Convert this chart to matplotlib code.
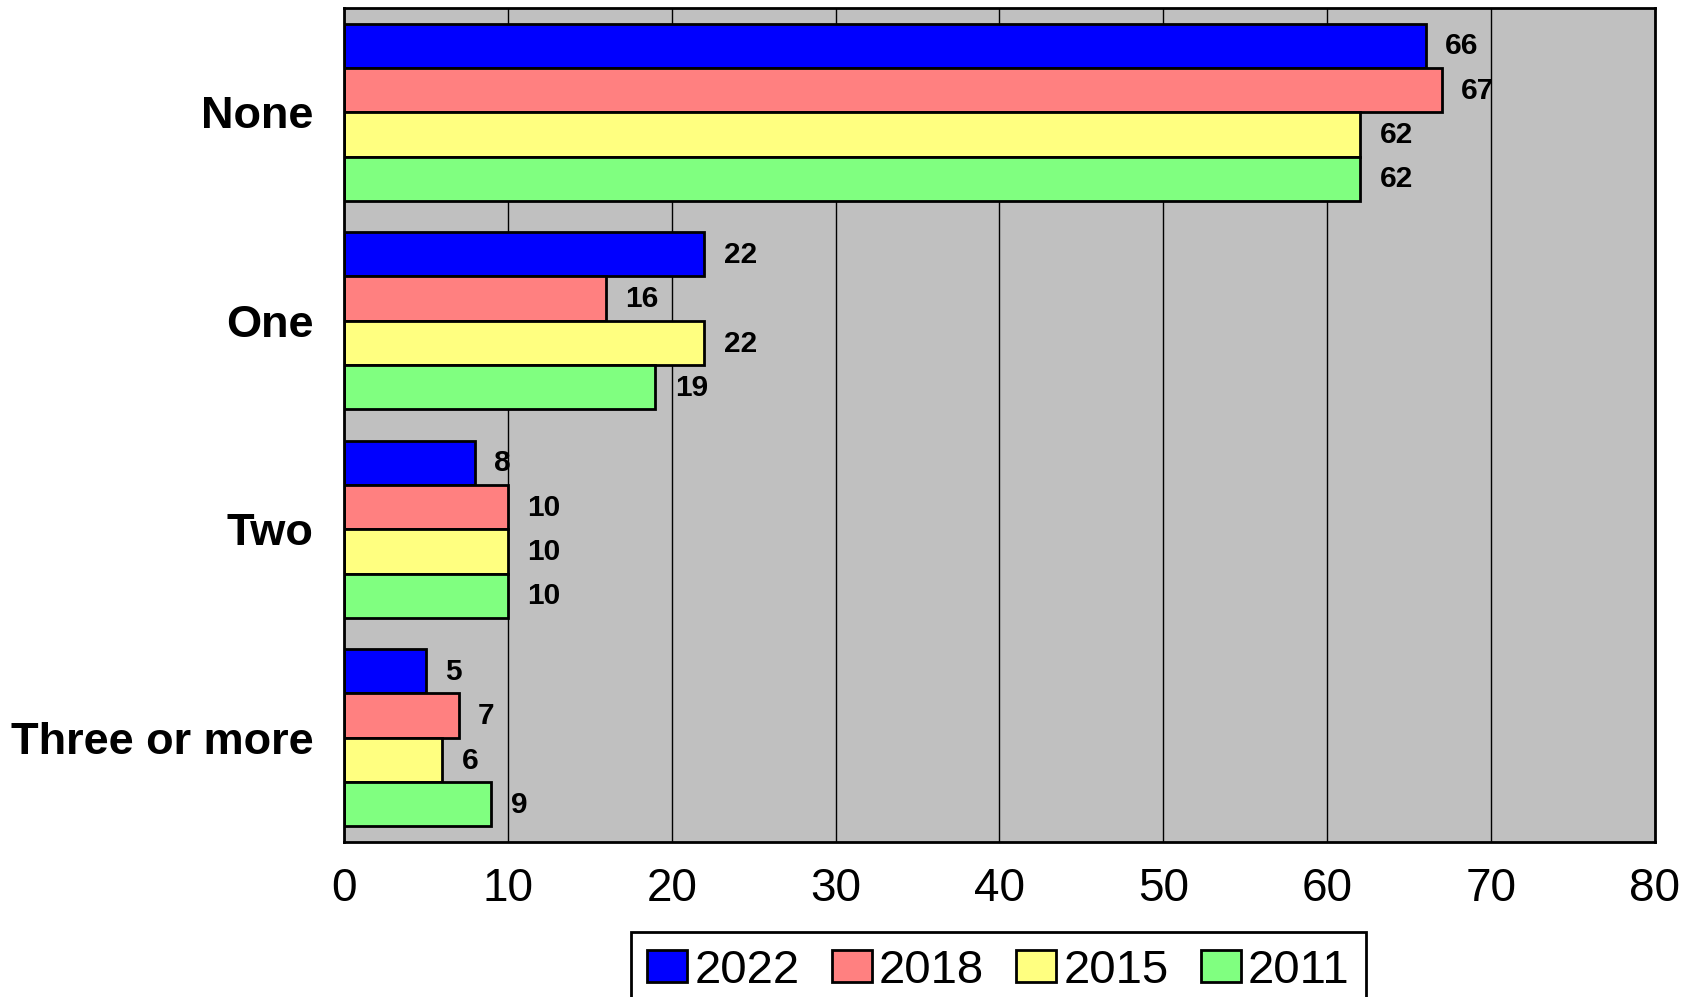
"""Horizontal grouped bar chart: number of items by survey year."""

import matplotlib

matplotlib.use("Agg")
import matplotlib.pyplot as plt
import numpy as np

plt.rcParams["font.family"] = ["Liberation Sans", "DejaVu Sans"]

categories = ["None", "One", "Two", "Three or more"]
years = ["2022", "2018", "2015", "2011"]
values_2022 = [66, 22, 8, 5]
values_2018 = [67, 16, 10, 7]
values_2015 = [62, 22, 10, 6]
values_2011 = [62, 19, 10, 9]
x_ticks = [0, 10, 20, 30, 40, 50, 60, 70, 80]

series = [values_2022, values_2018, values_2015, values_2011]
colors = ["#0000FF", "#FF8080", "#FFFF80", "#80FF80"]

fig = plt.figure(figsize=(16.96, 9.97), dpi=100)
ax = fig.add_axes([0.2028, 0.1555, 0.9758 - 0.2028, 0.992 - 0.1555])
ax.set_facecolor("#C0C0C0")

# categories run top to bottom
y_pos = np.arange(len(categories))
bar_h = 0.2125
offsets = (np.arange(len(series)) - 1.5) * bar_h

for vals, off, col, year in zip(series, offsets, colors, years):
    bars = ax.barh(
        y_pos + off,
        vals,
        height=bar_h,
        color=col,
        edgecolor="black",
        linewidth=2,
        label=year,
        zorder=3,
    )
    for bar, v in zip(bars, vals):
        ax.annotate(
            f"{v}",
            xy=(bar.get_width(), bar.get_y() + bar.get_height() / 2),
            xytext=(14, -0.5),
            textcoords="offset points",
            ha="left",
            va="center",
            fontsize=21.5,
            fontweight="bold",
            zorder=4,
        )

ax.set_ylim(len(categories) - 0.5, -0.5)
ax.set_xlim(0, 80)
ax.set_xticks(x_ticks)
ax.set_xticklabels([str(t) for t in x_ticks], fontsize=33)
ax.set_yticks(y_pos)
ax.set_yticklabels(categories, fontsize=32.5, fontweight="bold")
ax.tick_params(axis="x", length=0, pad=18)
ax.tick_params(axis="y", length=0, pad=22)

ax.grid(axis="x", color="black", linewidth=1, zorder=1)
ax.set_axisbelow(True)
for spine in ax.spines.values():
    spine.set_linewidth(2)
    spine.set_color("black")
    spine.set_zorder(5)

leg = fig.legend(
    loc="upper center",
    bbox_to_anchor=(0.5887, 0.0652),
    ncol=4,
    fontsize=34,
    frameon=True,
    fancybox=False,
    edgecolor="black",
    handlelength=0.85,
    handleheight=0.65,
    handletextpad=0.15,
    columnspacing=0.68,
    borderpad=0.35,
    borderaxespad=0,
)
leg.get_frame().set_linewidth(2)
leg.get_frame().set_alpha(1)

fig.savefig("out.png", dpi=100)
